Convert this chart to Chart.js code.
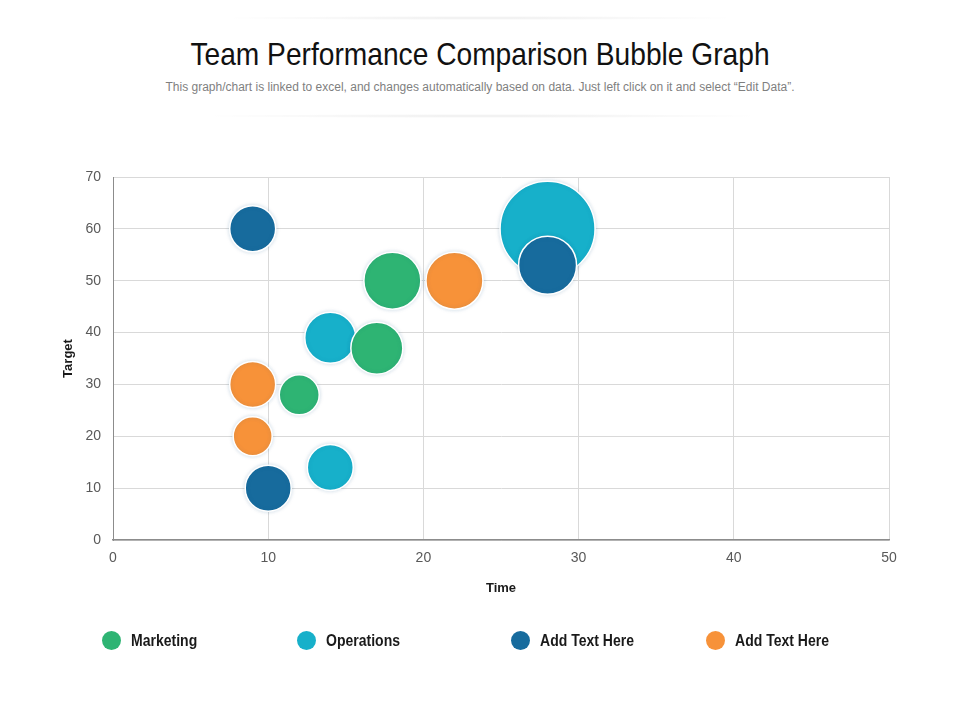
<!DOCTYPE html>
<html>
<head>
<meta charset="utf-8">
<script src="https://cdn.jsdelivr.net/npm/chart.js@4/dist/chart.umd.min.js"></script>
<style>
  html, body { margin: 0; padding: 0; background: #fff; }
  #wrap { position: relative; width: 960px; height: 720px; overflow: hidden; }
  #chart { position: absolute; left: 0; top: 0; }
  .rule { position: absolute; height: 4px; border-radius: 2px;
          background: radial-gradient(ellipse at center, rgba(0,0,0,0.07) 0%, rgba(0,0,0,0) 70%); }
  #title { position: absolute; left: 0; width: 960px; top: 36px; text-align: center;
           font-family: "Liberation Sans", Arial, sans-serif; font-size: 32px; color: #111;
           transform: scaleX(0.88); transform-origin: 480px 0; }
  #subtitle { position: absolute; left: 0; width: 960px; top: 80px; text-align: center;
              font-family: "Liberation Sans", Arial, sans-serif; font-size: 12.5px; color: #7f7f7f;
              transform: scaleX(0.96); transform-origin: 480px 0; }
  #legend { position: absolute; top: 629px; left: 0; width: 960px; height: 22px; }
  .item { position: absolute; top: 0; height: 22px; display: flex; align-items: center; }
  .dot { width: 19px; height: 19px; border-radius: 50%; margin-right: 10px; flex: none; }
  .txt { font-family: "Liberation Sans", Arial, sans-serif; font-weight: bold; font-size: 16.5px; color: #1a1a1a;
         display: inline-block; transform: scaleX(0.85); transform-origin: 0 50%; white-space: nowrap; }
</style>
</head>
<body>
<div id="wrap">
  <div class="rule" style="left:215px; width:530px; top:16px;"></div>
  <div id="title">Team Performance Comparison Bubble Graph</div>
  <div id="subtitle">This graph/chart is linked to excel, and changes automatically based on data. Just left click on it and select “Edit Data”.</div>
  <div class="rule" style="left:195px; width:575px; top:114px;"></div>
  <canvas id="chart" width="960" height="720"></canvas>
  <div id="legend"></div>
</div>
<script>
// series names and colours
const seriesNames = ['Marketing', 'Operations', 'Add Text Here', 'Add Text Here'];
const seriesColors = ['#2eb473', '#17b0ca', '#176b9d', '#f79239'];

// x = Time, y = Target, r = bubble size
const marketingX = [12, 17, 18];
const marketingY = [28, 37, 50];
const marketingR = [20, 26, 28.5];

const operationsX = [14, 14, 28];
const operationsY = [14, 39, 60];
const operationsR = [23, 25.5, 47.5];

const darkX = [9, 10, 28];
const darkY = [60, 10, 53];
const darkR = [23, 23, 29];

const orangeX = [9, 9, 22];
const orangeY = [20, 30, 50];
const orangeR = [19.5, 23, 28.5];

const xTicks = [0, 10, 20, 30, 40, 50];
const yTicks = [0, 10, 20, 30, 40, 50, 60, 70];

function points(xs, ys, rs) {
    return xs.map((x, i) => ({ x: x, y: ys[i], r: rs[i] }));
}

const allData = [
    points(marketingX, marketingY, marketingR),
    points(operationsX, operationsY, operationsR),
    points(darkX, darkY, darkR),
    points(orangeX, orangeY, orangeR)
];
const drawOrder = [1, 2, 0, 1]; // lower = drawn on top

const datasets = seriesNames.map((name, i) => ({
    label: name,
    data: allData[i],
    backgroundColor: seriesColors[i],
    borderColor: '#ffffff',
    borderWidth: 1.5,
    hoverBorderWidth: 1.5,
    order: drawOrder[i]
}));

// soft glow under bubbles
const bubbleShadow = {
    id: 'bubbleShadow',
    beforeDatasetsDraw(chart) {
        const ctx = chart.ctx;
        ctx.save();
        ctx.shadowColor = 'rgba(0, 90, 140, 0.18)';
        ctx.shadowBlur = 4;
    },
    afterDatasetsDraw(chart) {
        chart.ctx.restore();
    }
};

const tickFont = { family: '"Liberation Sans", Arial, sans-serif', size: 14 };
const titleFont = { family: '"Liberation Sans", Arial, sans-serif', size: 13, weight: 'bold' };

new Chart(document.getElementById('chart'), {
    type: 'bubble',
    data: { datasets: datasets },
    plugins: [bubbleShadow],
    options: {
        responsive: false,
        animation: false,
        layout: { padding: { left: 57, right: 71, top: 177, bottom: 120 } },
        plugins: {
            legend: { display: false },
            tooltip: { enabled: false }
        },
        scales: {
            x: {
                type: 'linear',
                min: 0, max: 50,
                afterBuildTicks: (scale) => { scale.ticks = xTicks.map(v => ({ value: v })); },
                afterFit: (scale) => { scale.height = 60; },
                grid: { color: '#d9d9d9', drawTicks: false },
                border: { color: '#8c8c8c', width: 1.5 },
                ticks: { font: tickFont, color: '#595959', padding: 10 },
                title: { display: true, text: 'Time', font: titleFont, color: '#1a1a1a', padding: { top: 7 } }
            },
            y: {
                type: 'linear',
                min: 0, max: 70,
                afterBuildTicks: (scale) => { scale.ticks = yTicks.map(v => ({ value: v })); },
                afterFit: (scale) => { scale.width = 56; },
                grid: { color: '#d9d9d9', drawTicks: false },
                border: { color: '#8c8c8c', width: 1 },
                ticks: { font: tickFont, color: '#595959', padding: 12 },
                title: { display: true, text: 'Target', font: titleFont, color: '#1a1a1a', padding: 4 }
            }
        }
    }
});

// legend row
const legendLeft = [102, 297, 511, 706];
const legend = document.getElementById('legend');
seriesNames.forEach((name, i) => {
    const item = document.createElement('div');
    item.className = 'item';
    item.style.left = legendLeft[i] + 'px';
    item.innerHTML = '<span class="dot" style="background:' + seriesColors[i] + '"></span><span class="txt">' + name + '</span>';
    legend.appendChild(item);
});
</script>
</body>
</html>
